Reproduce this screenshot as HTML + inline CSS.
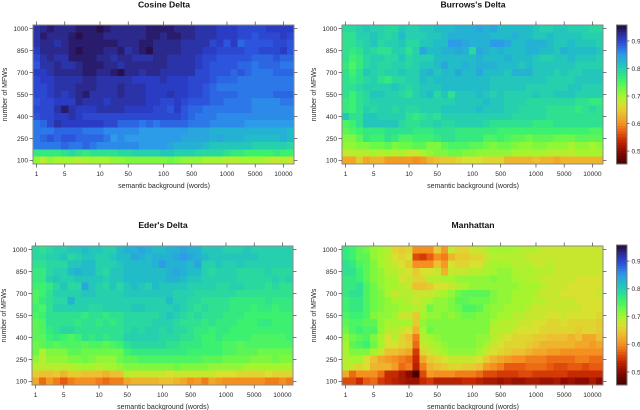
<!DOCTYPE html>
<html>
<head>
<meta charset="utf-8">
<title>Delta heatmaps</title>
<style>
html,body{margin:0;padding:0;background:#fff;width:640px;height:410px;overflow:hidden}
svg{display:block;font-family:"Liberation Sans",sans-serif;filter:blur(0.3px)}
</style>
</head>
<body>
<svg id="chart" width="640" height="410" viewBox="0 0 640 410" xmlns="http://www.w3.org/2000/svg"></svg>
<script>
const xCategories = [1,2,3,4,5,6,7,8,9,10,20,30,40,50,60,70,80,90,100,200,300,400,500,600,700,800,900,1000,2000,3000,4000,5000,6000,7000,8000,9000,10000];
const yCategories = [1000,950,900,850,800,750,700,650,600,550,500,450,400,350,300,250,200,150,100];
const xTickLabels = ["1","5","10","50","100","500","1000","5000","10000"];
const xTickColumns = [1,5,10,14,19,23,28,32,36];
const yTickLabels = [100,250,400,550,700,850,1000];
const colorbarTicks = [0.5,0.6,0.7,0.8,0.9];

const cosineValues = [
[92,93,94,93,93,93,94,94,94,95,94,93,93,93,93,93,94,94,94,94,93,93,93,92,92,92,91,91,91,90,90,90,90,91,91,91,91],
[92,94,93,93,93,94,95,94,94,94,93,93,93,93,93,93,94,94,93,94,94,93,93,92,92,92,91,91,91,90,90,89,90,90,90,91,90],
[92,93,93,92,93,94,94,94,94,94,94,94,93,93,93,94,94,93,93,93,93,92,92,92,92,90,91,89,91,88,89,89,89,89,90,90,89],
[91,93,93,93,93,94,95,94,94,94,93,93,94,92,93,94,95,93,93,93,93,92,92,92,91,91,90,90,90,90,89,89,90,90,90,91,89],
[90,92,93,92,92,94,94,94,94,93,93,92,93,93,92,92,92,93,93,92,92,92,92,91,90,90,89,89,89,89,89,88,88,88,89,88,88],
[89,92,92,93,92,92,93,94,94,94,93,93,92,93,93,93,93,93,93,92,92,92,92,91,90,89,89,89,89,88,88,87,88,88,88,87,87],
[91,91,92,93,93,93,93,94,94,93,93,94,95,93,93,92,93,93,92,92,92,92,92,90,90,89,89,89,88,89,88,87,87,87,88,88,88],
[90,91,91,92,92,92,92,93,93,92,92,92,92,92,91,91,91,91,92,91,91,91,90,90,90,89,88,88,88,87,87,87,87,87,87,87,87],
[90,90,91,92,92,92,93,93,93,92,92,92,93,92,92,92,91,91,91,91,91,91,90,90,89,88,87,87,87,87,87,87,87,87,87,87,87],
[90,90,91,92,91,92,93,94,92,92,92,92,93,92,92,92,91,91,91,92,91,91,90,90,89,88,88,88,88,87,87,87,87,87,88,88,88],
[89,90,90,91,91,91,93,92,92,92,91,92,92,92,92,92,91,91,90,90,91,90,89,89,89,88,88,87,87,87,87,86,86,86,86,87,87],
[90,90,90,92,94,92,91,91,91,92,92,92,92,91,91,91,91,90,90,89,91,89,88,88,87,87,87,87,87,87,87,86,86,86,86,86,86],
[89,90,90,91,91,92,91,90,90,90,90,90,90,90,90,90,90,90,90,90,90,89,88,87,87,87,86,86,86,86,86,86,86,86,86,86,86],
[87,88,90,92,91,91,91,91,91,91,90,90,88,88,88,87,88,87,88,88,88,88,87,87,87,86,86,86,86,86,85,85,85,85,85,85,85],
[87,87,87,88,88,88,88,87,87,87,86,86,86,86,86,85,85,85,85,85,85,85,84,84,84,83,83,83,83,83,83,83,83,83,83,83,82],
[87,88,89,88,89,89,88,88,88,88,87,85,86,85,85,85,85,85,85,85,85,84,84,84,84,83,84,83,83,83,82,82,82,82,82,83,82],
[87,87,87,87,88,87,87,88,87,86,86,86,86,86,86,85,85,85,85,84,83,83,83,83,82,81,81,81,81,81,81,80,80,80,80,80,79],
[77,77,77,77,78,79,78,77,78,78,78,78,79,79,80,80,80,80,81,81,80,80,80,79,79,79,79,78,77,77,76,76,76,76,77,76,76],
[71,69,71,70,70,70,69,70,70,70,70,71,71,72,72,72,72,72,72,73,72,71,71,71,70,70,70,69,69,70,70,70,70,69,68,69,68]
];
const burrowsValues = [
[79,79,80,81,80,80,79,79,81,80,80,81,81,82,82,82,83,83,83,84,83,84,82,82,82,82,82,81,80,80,81,81,80,80,80,79,79],
[78,78,80,80,81,80,79,80,82,80,80,80,81,81,82,83,83,83,83,83,83,82,82,82,83,82,82,81,81,82,81,81,81,81,80,80,80],
[78,78,79,80,81,79,80,80,81,79,79,81,81,82,82,85,85,84,83,83,83,85,85,84,82,82,83,83,83,82,81,81,82,81,81,81,80],
[78,77,78,80,79,78,78,80,80,78,80,84,82,82,83,83,84,83,79,84,83,82,83,82,82,82,83,83,82,82,81,83,82,82,82,82,81],
[78,76,77,79,80,80,79,79,81,79,80,80,80,82,82,82,82,82,82,83,82,82,82,83,82,82,82,81,80,80,81,81,82,81,81,81,80],
[77,75,77,79,80,79,79,80,80,79,80,81,81,82,84,82,82,83,82,83,83,83,82,82,82,81,82,81,81,81,81,81,81,80,80,80,80],
[78,76,78,81,80,79,80,80,81,80,80,82,83,81,82,82,84,82,82,84,82,82,82,81,83,83,83,81,81,81,80,81,80,80,81,81,81],
[78,77,78,79,80,78,77,79,79,80,80,82,81,82,82,82,82,82,82,82,82,81,81,81,81,81,81,81,81,80,80,80,80,81,81,81,81],
[78,78,79,80,80,80,80,81,80,79,80,81,81,81,82,82,82,82,82,82,82,81,81,81,81,81,80,80,80,80,80,80,81,81,80,80,80],
[78,76,78,79,81,81,80,80,79,78,80,81,82,79,81,78,81,81,81,82,81,80,81,80,80,80,80,81,80,80,81,81,81,80,80,80,80],
[77,76,78,79,80,80,80,80,80,80,80,80,80,80,80,80,81,81,81,81,82,81,81,80,80,80,79,79,79,79,79,79,79,78,78,77,77],
[77,76,78,80,79,80,80,79,80,79,79,80,80,80,81,81,81,81,81,82,81,81,81,80,80,79,79,79,79,78,78,78,78,77,78,79,78],
[81,78,78,81,81,80,80,80,80,78,77,78,79,78,80,80,80,80,80,80,80,80,80,80,79,79,79,79,79,78,78,78,78,78,78,78,78],
[75,76,78,81,81,81,81,81,79,78,78,79,79,80,79,79,80,80,80,80,79,78,78,78,78,78,78,77,77,77,78,78,78,78,78,78,78],
[74,75,76,77,77,77,78,78,78,78,77,77,77,78,78,78,77,77,77,77,77,77,76,76,76,76,76,76,76,76,76,76,76,76,76,75,75],
[72,72,74,77,76,76,78,77,75,75,76,76,76,77,78,78,77,77,77,77,75,75,76,75,74,74,73,74,74,74,73,73,73,74,74,74,74],
[71,71,72,72,73,73,74,72,73,73,74,74,72,72,74,75,75,75,74,74,73,72,73,73,72,71,71,72,72,71,71,71,70,71,71,70,71],
[68,69,69,69,70,69,70,69,70,68,68,70,71,72,72,73,73,72,72,71,71,71,71,71,70,70,70,70,70,69,69,69,69,70,70,70,70],
[62,62,65,62,63,63,61,61,61,61,60,61,63,64,65,65,66,67,67,67,66,66,66,63,63,63,63,64,63,63,62,63,63,63,63,63,63]
];
const ederValues = [
[79,78,79,80,80,81,81,82,81,81,80,80,82,83,83,84,83,82,82,83,83,84,83,83,81,81,81,80,80,80,81,80,80,80,80,80,80],
[79,79,80,80,81,79,80,81,81,80,80,81,82,82,84,83,82,83,83,83,84,85,84,83,82,81,81,81,81,81,81,81,80,80,80,80,80],
[78,78,79,79,79,81,81,82,82,80,80,80,81,82,82,82,82,83,85,83,83,83,82,84,80,80,81,80,80,81,80,80,80,80,80,80,80],
[77,77,79,80,80,82,83,82,82,80,79,81,81,82,82,82,82,82,82,83,84,83,82,82,80,79,80,80,80,79,79,79,79,80,79,79,79],
[77,77,80,81,80,80,81,81,81,81,80,81,81,82,82,82,82,82,82,83,83,82,81,81,80,80,80,80,80,79,79,79,79,79,80,79,80],
[76,76,77,79,81,79,79,84,81,80,79,81,79,81,82,81,80,82,81,81,81,81,80,80,80,80,79,79,80,80,79,79,79,78,79,78,78],
[75,76,78,80,80,80,80,81,81,80,80,80,80,81,81,81,81,81,81,81,80,80,80,79,79,79,79,79,79,78,78,78,78,78,78,78,78],
[75,77,78,79,79,83,80,80,80,80,80,80,80,80,80,80,80,80,80,82,80,80,79,79,78,78,78,78,77,77,77,77,77,78,77,77,77],
[76,75,78,80,80,80,80,80,79,79,80,80,80,80,81,81,80,80,80,80,81,80,79,78,79,78,78,78,77,77,77,76,77,77,76,77,77],
[75,76,78,78,78,78,78,77,78,78,77,78,78,79,79,79,79,79,80,81,80,79,78,79,78,78,78,77,77,77,76,76,76,76,76,76,76],
[74,75,78,78,78,78,77,78,78,77,78,77,78,79,79,79,79,80,80,80,79,78,78,78,77,78,77,77,77,76,76,76,77,77,76,76,76],
[74,75,77,78,79,79,78,78,78,78,78,78,78,79,80,79,80,80,79,80,79,79,78,77,77,76,77,77,76,76,76,76,76,76,76,76,76],
[74,74,76,77,76,75,76,78,77,78,77,78,78,80,80,80,80,80,79,79,79,78,78,77,76,76,77,76,76,76,76,75,75,75,75,75,76],
[73,74,75,74,75,75,75,74,75,75,74,75,76,78,79,79,79,79,79,78,78,77,77,77,76,76,76,75,75,74,75,75,75,75,75,75,75],
[73,69,72,72,72,74,74,73,73,73,73,73,73,76,77,77,77,77,77,77,77,77,76,76,76,76,76,75,75,74,74,74,73,73,73,73,73],
[71,69,71,71,71,72,72,73,72,71,71,71,73,74,74,75,75,75,75,75,75,75,75,75,74,74,74,73,73,73,73,72,72,72,73,72,72],
[69,69,69,69,69,69,70,70,70,69,70,70,71,72,72,72,72,72,72,72,73,72,72,72,72,71,71,71,71,71,70,70,70,70,70,70,70],
[65,64,64,65,63,65,65,64,64,64,63,64,64,69,68,68,68,68,68,67,68,68,68,68,68,68,67,67,67,66,66,66,66,67,66,66,66],
[62,58,61,59,57,59,60,60,60,59,58,59,59,62,63,63,63,63,64,64,63,62,60,61,59,62,61,60,60,60,60,60,60,59,59,60,59]
];
const manhattanValues = [
[77,76,74,73,71,70,69,66,65,66,60,60,60,65,61,68,66,66,68,68,69,70,70,70,70,69,69,69,68,68,68,68,68,68,68,68,68],
[77,76,74,74,71,70,69,67,66,67,56,55,57,60,59,63,65,65,66,66,68,69,69,69,69,69,68,68,68,68,68,68,68,68,68,68,68],
[78,77,75,74,72,70,69,68,67,65,60,60,60,64,61,67,66,66,67,67,69,70,70,70,69,69,69,68,68,69,68,68,68,68,68,68,68],
[78,78,76,74,72,71,69,69,68,67,65,67,67,68,63,68,68,68,69,69,70,70,71,71,70,69,70,69,69,69,68,68,68,68,68,68,68],
[77,77,76,74,72,71,70,70,67,68,66,66,69,69,70,70,71,71,71,71,71,72,71,71,70,70,69,69,68,68,68,68,68,67,67,67,67],
[77,77,78,75,73,71,70,70,69,68,64,64,65,67,67,68,69,70,71,71,71,71,71,71,71,70,70,70,69,68,68,68,67,67,67,67,67],
[77,78,78,75,73,72,70,68,69,69,68,68,68,69,70,71,73,74,74,74,74,72,71,71,70,70,70,69,68,68,68,67,67,67,67,67,68],
[76,77,77,75,73,72,71,70,70,69,68,69,70,71,71,72,74,74,73,73,73,72,71,71,70,70,70,69,69,68,68,68,68,67,67,67,67],
[76,77,77,75,73,72,71,71,70,70,69,69,73,71,71,72,73,75,75,74,72,71,71,70,70,70,69,68,68,68,68,68,68,68,67,67,67],
[75,76,76,75,72,71,71,70,68,68,65,70,71,71,72,71,72,73,73,72,72,71,70,70,69,69,68,68,68,67,67,68,67,67,67,67,66],
[74,75,75,74,74,71,70,70,70,70,65,71,72,72,72,72,72,72,72,72,72,70,69,69,69,68,68,67,67,66,66,67,66,66,66,66,65],
[73,75,76,75,75,71,69,69,68,67,63,70,73,72,72,72,72,72,72,72,72,69,69,69,68,67,67,67,66,66,66,66,66,65,66,66,65],
[71,73,74,75,72,70,67,69,66,64,59,69,70,71,72,72,72,72,72,71,71,69,68,67,66,66,66,65,65,64,64,64,63,64,62,62,64],
[70,74,75,76,73,70,67,67,66,65,58,68,69,70,71,72,72,72,72,71,70,68,67,66,66,66,65,64,63,63,63,63,63,62,62,61,62],
[70,72,72,72,70,68,64,64,63,62,55,66,68,69,70,71,71,71,71,70,68,67,66,65,64,64,63,62,62,61,61,60,60,60,60,60,60],
[69,70,70,67,64,62,61,60,59,58,54,62,65,66,67,68,68,68,68,67,65,63,62,61,60,60,59,59,59,58,58,58,58,59,59,58,58],
[69,68,66,67,63,63,63,61,58,59,53,59,63,64,65,66,66,65,65,64,61,60,59,57,57,57,58,58,58,57,56,56,57,57,56,57,57],
[62,58,60,60,60,58,54,54,52,50,46,56,61,60,60,60,59,59,59,58,56,56,55,55,55,56,56,55,55,55,55,55,54,54,54,54,54],
[56,56,54,57,58,55,54,53,52,51,51,54,55,53,53,53,53,54,54,53,52,52,51,52,51,51,52,52,51,51,52,50,51,50,50,52,50]
];

const svgNS = 'http://www.w3.org/2000/svg';
const svg = document.getElementById('chart');
const colorStops = [
 [0.45,'#3a0000'],[0.50,'#8c0a00'],[0.54,'#c82a00'],[0.57,'#e85a10'],[0.60,'#f59020'],
 [0.64,'#ecc030'],[0.67,'#d8e030'],[0.70,'#a4f52e'],[0.73,'#6cf848'],[0.76,'#3cf070'],
 [0.79,'#28d8a0'],[0.82,'#22bcc8'],[0.85,'#2c9ce8'],[0.87,'#2c78e8'],[0.89,'#2c54dc'],
 [0.91,'#2b3cc4'],[0.93,'#2b2a8c'],[0.94,'#2a1c6c'],[0.95,'#28104e'],[0.96,'#1a0c38']
];
function hex(c){return [1,3,5].map(i=>parseInt(c.substr(i,2),16));}
function colorFor(v){
  if(v<=colorStops[0][0])return colorStops[0][1];
  for(let i=1;i<colorStops.length;i++){
    if(v<=colorStops[i][0]){
      const a=colorStops[i-1],b=colorStops[i],t=(v-a[0])/(b[0]-a[0]);
      const ca=hex(a[1]),cb=hex(b[1]);
      return 'rgb('+ca.map((x,k)=>Math.round(x+(cb[k]-x)*t)).join(',')+')';
    }
  }
  return colorStops[colorStops.length-1][1];
}
function mk(tag,attrs,parent,text){
  const el=document.createElementNS(svgNS,tag);
  for(const k in attrs)el.setAttribute(k,attrs[k]);
  if(text!==undefined)el.textContent=text;
  parent.appendChild(el);
  return el;
}
const TXT='#2a2a2a';
function drawPanel(title,slug,values,box){
  const g=mk('g',{},svg);
  
  
  const cw=(box.r-box.l)/xCategories.length;
  const ch=(box.b-box.t)/yCategories.length;
  const xCol=i=>box.l+(i-0.5)*cw;
  const yVal=v=>box.b-((v-yCategories[yCategories.length-1])/50+0.5)*ch;
  values.forEach((row,ri)=>{
    row.forEach((val,ci)=>{
      const c=mk('rect',{x:box.l+ci*cw,y:yVal(yCategories[ri])-ch/2,width:cw+0.3,height:ch+0.3,fill:colorFor(val/100),'shape-rendering':'crispEdges'},g);
      
      
    });
  });
  const frame=mk('rect',{x:box.l,y:box.t,width:box.r-box.l,height:box.b-box.t,fill:'none',stroke:'#8a8a8a','stroke-width':1},g);
  
  
  xTickColumns.forEach((col,i)=>{
    const x=xCol(col);
    const t1=mk('line',{x1:x,x2:x,y1:box.t-3.5,y2:box.t,stroke:'#444','stroke-width':0.7},g);
    
    
    const t2=mk('line',{x1:x,x2:x,y1:box.b,y2:box.b+3.5,stroke:'#444','stroke-width':0.7},g);
    
    
    const lb=mk('text',{x:x,y:box.b+12,'font-size':6.6,'text-anchor':'middle',fill:TXT},g,xTickLabels[i]);
    
    
  });
  yTickLabels.forEach(v=>{
    const y=yVal(v);
    const t1=mk('line',{x1:box.l-3.5,x2:box.l,y1:y,y2:y,stroke:'#444','stroke-width':0.7},g);
    
    
    const t2=mk('line',{x1:box.r,x2:box.r+3.5,y1:y,y2:y,stroke:'#444','stroke-width':0.7},g);
    
    
    const lb=mk('text',{x:box.l-5,y:y+2.4,'font-size':6.6,'text-anchor':'end',fill:TXT},g,String(v));
    
    
  });
  const tt=mk('text',{x:box.cx,y:box.ty,'font-size':8.6,'font-weight':'bold','text-anchor':'middle',fill:'#111'},g,title);
  
  
  const xt=mk('text',{x:box.cx,y:box.b+24,'font-size':7,'text-anchor':'middle',fill:TXT},g,'semantic background (words)');
  
  
  const yc=(box.t+box.b)/2;
  const yt=mk('text',{x:box.yx,y:yc,'font-size':7,'text-anchor':'middle',fill:TXT,transform:'rotate(-90 '+box.yx+' '+yc+')'},g,'number of MFWs');
  
  
}
function drawColorbar(slug,box){
  const g=mk('g',{},svg);
  
  
  const vMin=0.453,vMax=0.958,step=0.01;
  const yOf=v=>box.b-(v-vMin)/(vMax-vMin)*(box.b-box.t);
  for(let v=vMin;v<vMax;v+=step){
    const s=mk('rect',{x:box.l,y:yOf(Math.min(v+step,vMax)),width:box.r-box.l,height:yOf(v)-yOf(Math.min(v+step,vMax))+0.3,fill:colorFor(v+step/2),'shape-rendering':'crispEdges'},g);
    
    
  }
  const f=mk('rect',{x:box.l,y:box.t,width:box.r-box.l,height:box.b-box.t,fill:'none',stroke:'#777','stroke-width':1},g);
  
  
  colorbarTicks.forEach(v=>{
    const y=yOf(v);
    const t=mk('line',{x1:box.r,x2:box.r+2.5,y1:y,y2:y,stroke:'#444','stroke-width':0.7},g);
    
    
    const lb=mk('text',{x:box.r+4.5,y:y+2.4,'font-size':6.6,fill:TXT},g,v.toFixed(1));
    
    
  });
}
drawPanel('Cosine Delta','cosine-delta',cosineValues,{l:33,r:294,t:25,b:164,cx:164,ty:7.5,yx:7});
drawPanel("Burrows's Delta",'burrows-delta',burrowsValues,{l:342,r:603,t:25,b:164,cx:473,ty:7.5,yx:316});
drawPanel("Eder's Delta",'eders-delta',ederValues,{l:32,r:293,t:246,b:385,cx:163,ty:228,yx:6});
drawPanel('Manhattan','manhattan',manhattanValues,{l:342,r:603,t:246,b:385,cx:473,ty:228,yx:316});
drawColorbar('colorbar-top',{l:616.5,r:627,t:25,b:164});
drawColorbar('colorbar-bottom',{l:616.5,r:627,t:245,b:385});
</script>
</body>
</html>
